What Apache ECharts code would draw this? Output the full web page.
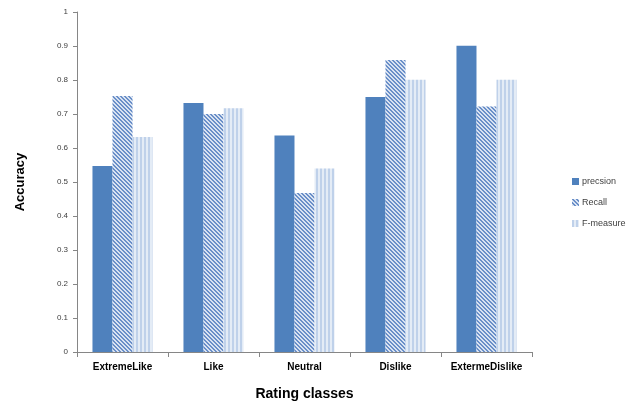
<!DOCTYPE html>
<html>
<head>
<meta charset="utf-8">
<script src="https://cdn.jsdelivr.net/npm/echarts@6/dist/echarts.min.js"></script>
<style>
  html, body { margin: 0; padding: 0; background: #fff; }
  #chart { width: 640px; height: 403px; }
</style>
</head>
<body>
<div id="chart"></div>
<script>
// Rating classes and per-class scores
const categories = ['ExtremeLike', 'Like', 'Neutral', 'Dislike', 'ExtermeDislike'];
const precisionValues = [0.547, 0.732, 0.637, 0.750, 0.901];
const recallValues = [0.753, 0.700, 0.468, 0.859, 0.722];
const fMeasureValues = [0.632, 0.717, 0.540, 0.801, 0.801];
const yTicks = [0, 0.1, 0.2, 0.3, 0.4, 0.5, 0.6, 0.7, 0.8, 0.9, 1];

// Small tiled patterns for the hatched bars
function makePattern(size, painter) {
  const c = document.createElement('canvas');
  c.width = size; c.height = size;
  const ctx = c.getContext('2d');
  painter(ctx, size);
  return { image: c, repeat: 'repeat' };
}
const diagonalHatch = makePattern(4, (ctx, s) => {
  ctx.fillStyle = '#D9E3F2';
  ctx.fillRect(0, 0, s, s);
  ctx.fillStyle = '#6A8FC8';
  for (let y = 0; y < s; y++) {
    for (let x = 0; x < s; x++) {
      const d = ((x - y) % s + s) % s;
      if (d === 0 || d === 1) ctx.fillRect(x, y, 1, 1);
    }
  }
});
const verticalStripes = makePattern(4, (ctx, s) => {
  ctx.fillStyle = '#E4ECF6';
  ctx.fillRect(0, 0, s, s);
  ctx.fillStyle = '#BFD1EA';
  ctx.fillRect(0, 0, 2, s);
});

const chart = echarts.init(document.getElementById('chart'), null, { renderer: 'canvas' });
const font = 'Liberation Sans, Arial, sans-serif';

chart.setOption({
  animation: false,
  backgroundColor: '#ffffff',
  grid: { left: 77, right: 108, top: 12, bottom: 51, containLabel: false, outerBoundsMode: 'none' },
  legend: {
    orient: 'vertical',
    left: 567,
    top: 172,
    itemWidth: 7,
    itemHeight: 7,
    itemGap: 12,
    icon: 'rect',
    textStyle: { fontSize: 9, color: '#404040', fontFamily: font, padding: [0, 0, 0, -2] },
    data: ['precsion', 'Recall', 'F-measure']
  },
  xAxis: {
    type: 'category',
    data: categories,
    name: 'Rating classes',
    nameLocation: 'middle',
    nameGap: 35,
    nameTextStyle: { fontSize: 14, fontWeight: 'bold', color: '#000', fontFamily: font },
    axisLine: { lineStyle: { color: '#868686' } },
    axisTick: { show: true, interval: 0, length: 5, lineStyle: { color: '#868686' } },
    axisLabel: { interval: 0, fontSize: 10, fontWeight: 'bold', color: '#000', margin: 10, fontFamily: font }
  },
  yAxis: {
    type: 'value',
    min: 0,
    max: 1,
    interval: 0.1,
    name: 'Accuracy',
    nameLocation: 'middle',
    nameGap: 50,
    nameRotate: 90,
    nameTextStyle: { fontSize: 13, fontWeight: 'bold', color: '#000', fontFamily: font },
    axisLine: { show: true, lineStyle: { color: '#868686' } },
    axisTick: { show: true, length: 4, lineStyle: { color: '#868686' } },
    splitLine: { show: false },
    axisLabel: {
      fontSize: 8, margin: 9, color: '#404040', fontFamily: font,
      formatter: v => {
        const hit = yTicks.find(t => Math.abs(t - v) < 1e-9);
        return hit === undefined ? '' : String(hit);
      }
    }
  },
  series: [
    {
      name: 'precsion', type: 'bar', data: precisionValues,
      barGap: '0%', barCategoryGap: '34%',
      itemStyle: { color: '#4F81BD' }
    },
    {
      name: 'Recall', type: 'bar', data: recallValues,
      barGap: '0%', barCategoryGap: '34%',
      itemStyle: { color: diagonalHatch }
    },
    {
      name: 'F-measure', type: 'bar', data: fMeasureValues,
      barGap: '0%', barCategoryGap: '34%',
      itemStyle: { color: verticalStripes }
    }
  ]
});
</script>
</body>
</html>
